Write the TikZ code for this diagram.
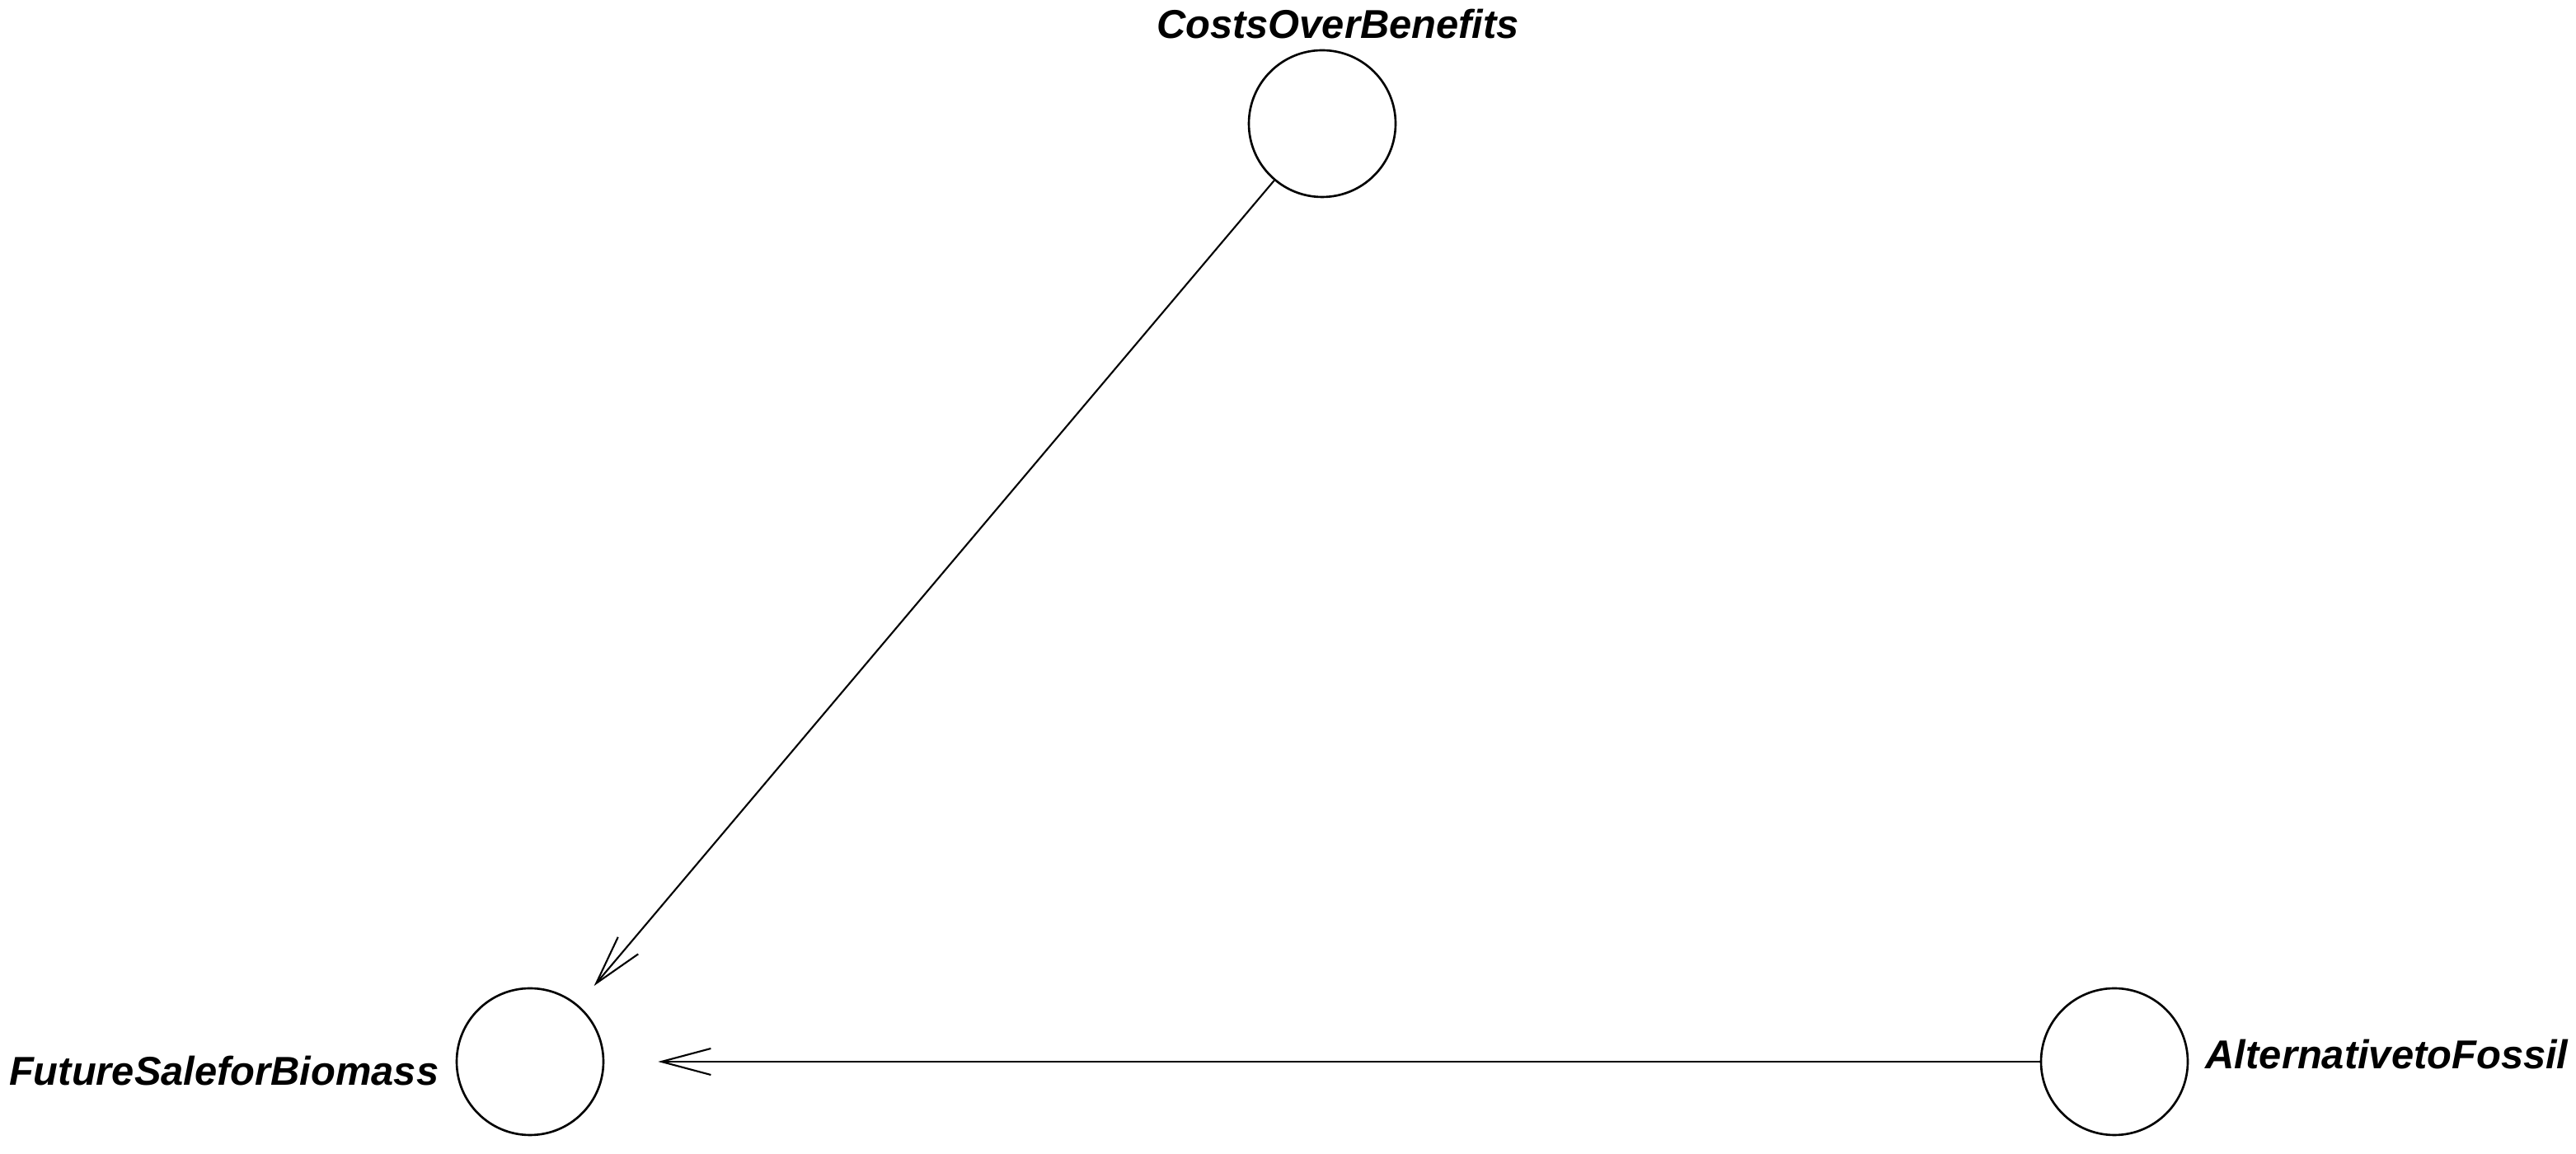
\documentclass[tikz,border=0pt]{standalone}
\usepackage{fontspec}
\setmainfont{Liberation Sans}
\usetikzlibrary{arrows.meta}
\begin{document}
\begin{tikzpicture}[
  varnode/.style={circle, draw=black, line width=0.75pt, minimum size=1.78cm, inner sep=0pt},
  varlabel/.style={font=\fontsize{13.9}{16}\selectfont\bfseries\itshape, inner sep=0pt},
  edge/.style={line width=0.6pt, -{Straight Barb[length=6mm,width=3.2mm,line width=0.6pt]}}
]
\useasboundingbox (0,0) rectangle (31.25,14);
\node[varnode] (cob) at (16.04,12.50) {};
\node[varnode] (fsb) at (6.43,1.12) {};
\node[varnode] (atf) at (25.65,1.12) {};
\node[varlabel, anchor=base] (cobl) at (16.23,13.53) {CostsOverBenefits};
\node[varlabel, anchor=base east] (fsbl) at (5.33,0.83) {FutureSaleforBiomass};
\node[varlabel, anchor=base west] (atfl) at (26.75,1.03) {AlternativetoFossil};
\draw[edge, shorten >=0.30cm] (cob) -- (fsb);
\draw[edge, shorten >=0.65cm] (atf) -- (fsb);
\end{tikzpicture}
\end{document}
